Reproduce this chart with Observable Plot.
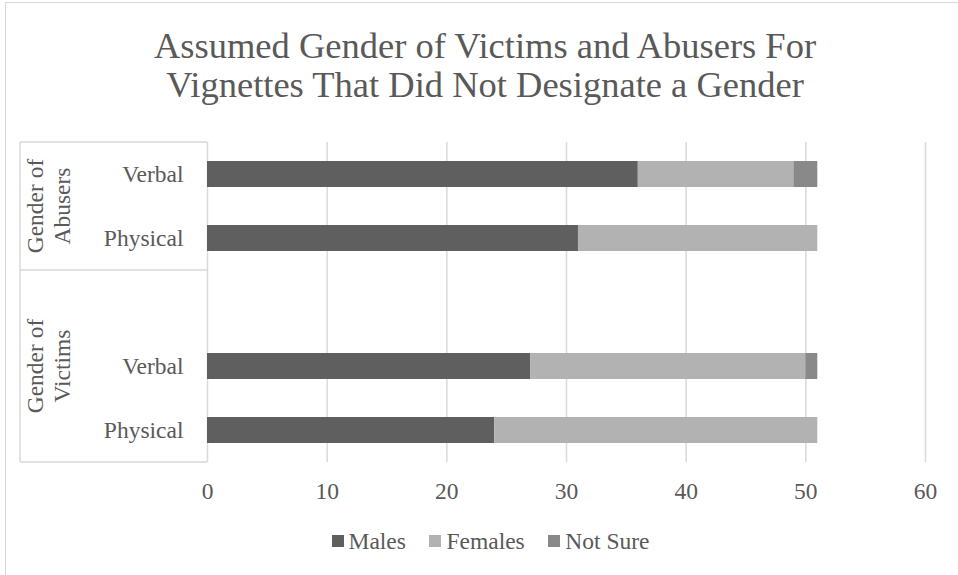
<!DOCTYPE html>
<html>
<head>
<meta charset="utf-8">
<script src="https://cdn.jsdelivr.net/npm/d3@7"></script>
<script src="https://cdn.jsdelivr.net/npm/@observablehq/plot@0.6"></script>
<style>
  html, body { margin: 0; padding: 0; background: #fff; overflow: hidden; }
  #wrap { position: relative; width: 958px; height: 575px; font-family: "Liberation Serif", "Times New Roman", serif; color: #595959; }
  #chart svg { position: absolute; left: 0; top: 0; }
  #frame { position: absolute; left: 5px; top: 2px; width: 1000px; height: 640px; border: 1.5px solid #d9d9d9; pointer-events: none; }
  #title { position: absolute; left: 0; top: 26px; width: 970px; text-align: center; font-size: 36.5px; line-height: 39px; }
  #legend { position: absolute; left: 0; top: 529px; width: 981px; display: flex; justify-content: center; font-size: 23.5px; line-height: 24px; }
  .item { display: flex; align-items: center; margin: 0 11.75px; }
  .sw { width: 12px; height: 12px; margin-right: 5px; }
</style>
</head>
<body>
<div id="wrap">
  <div id="chart"></div>
  <div id="title"></div>
  <div id="legend"></div>
  <div id="frame"></div>
</div>
<script>
// Chart text
const titleLines = ["Assumed Gender of Victims and Abusers For", "Vignettes That Did Not Designate a Gender"];

// Rows, top to bottom (the victims group carries one empty slot)
const groups = ["Gender of Abusers", "Gender of Abusers", "Gender of Victims", "Gender of Victims", "Gender of Victims"];
const groupLabelLines = [["Gender of", "Abusers"], ["Gender of", "Victims"]];
const categories = ["Verbal", "Physical", "", "Verbal", "Physical"];

// Series
const seriesNames = ["Males", "Females", "Not Sure"];
const males   = [36, 31, 0, 27, 24];
const females = [13, 20, 0, 23, 27];
const notSure = [2, 0, 0, 1, 0];
const seriesColors = ["#5f5f5f", "#b2b2b2", "#898989"];

// Value axis
const xDomain = [0, 60];
const xTicks = [0, 10, 20, 30, 40, 50, 60];

// Build table
const keys = categories.map((c, i) => groups[i] + "|" + c);
const seriesValues = [males, females, notSure];
const table = [];
keys.forEach((k, i) => {
  seriesNames.forEach((s, j) => {
    table.push({key: k, series: s, value: seriesValues[j][i]});
  });
});

const gridColor = "#d9d9d9";

const chart = Plot.plot({
  width: 958,
  height: 575,
  marginTop: 142,
  marginBottom: 113,
  marginLeft: 207,
  marginRight: 33,
  style: {
    fontFamily: '"Liberation Serif", "Times New Roman", serif',
    fontSize: "23.5px",
    color: "#595959",
    background: "none",
    overflow: "visible"
  },
  x: {domain: xDomain},
  y: {domain: keys, paddingInner: 0.6, paddingOuter: 0.3},
  color: {domain: seriesNames, range: seriesColors},
  marks: [
    Plot.gridX(xTicks, {stroke: gridColor, strokeOpacity: 1, strokeWidth: 1.5}),
    Plot.barX(table, Plot.stackX({x: "value", y: "key", fill: "series"})),
    Plot.axisX(xTicks, {tickSize: 0, tickPadding: 19.5, label: null}),
    Plot.axisY({tickSize: 0, tickPadding: 24, label: null, tickFormat: k => k.split("|")[1]})
  ]
});
document.getElementById("chart").append(chart);

// Group brackets and rotated group labels on the category axis
const yScale = chart.scale("y");
const gap = (yScale.step - yScale.bandwidth) / 2;
const svg = d3.select(chart);
const boxLeft = 20, boxRight = 207;
const groupNames = Array.from(new Set(groups));
const deco = svg.append("g").attr("stroke", gridColor).attr("stroke-width", 1.5).attr("fill", "none");
const bounds = [];
groupNames.forEach((g, gi) => {
  const rows = keys.filter((k, i) => groups[i] === g);
  const top = yScale.apply(rows[0]) - gap;
  const bottom = yScale.apply(rows[rows.length - 1]) + yScale.bandwidth + gap;
  bounds.push(top, bottom);
  const cy = (top + bottom) / 2;
  const lines = groupLabelLines[gi];
  const lineX = [43, 70];
  lines.forEach((t, li) => {
    svg.append("text")
      .attr("transform", `translate(${lineX[li]},${cy}) rotate(-90)`)
      .attr("text-anchor", "middle")
      .attr("fill", "currentColor")
      .text(t);
  });
});
Array.from(new Set(bounds)).forEach(b => {
  deco.append("line").attr("x1", boxLeft).attr("x2", boxRight).attr("y1", b).attr("y2", b);
});
deco.append("line").attr("x1", boxLeft).attr("x2", boxLeft)
  .attr("y1", d3.min(bounds)).attr("y2", d3.max(bounds));

// Title
const titleEl = document.getElementById("title");
titleLines.forEach(t => { const d = document.createElement("div"); d.textContent = t; titleEl.append(d); });

// Legend
const legendEl = document.getElementById("legend");
seriesNames.forEach((s, i) => {
  const item = document.createElement("div");
  item.className = "item";
  const sw = document.createElement("div");
  sw.className = "sw";
  sw.style.background = seriesColors[i];
  const label = document.createElement("span");
  label.textContent = s;
  item.append(sw, label);
  legendEl.append(item);
});
</script>
</body>
</html>
